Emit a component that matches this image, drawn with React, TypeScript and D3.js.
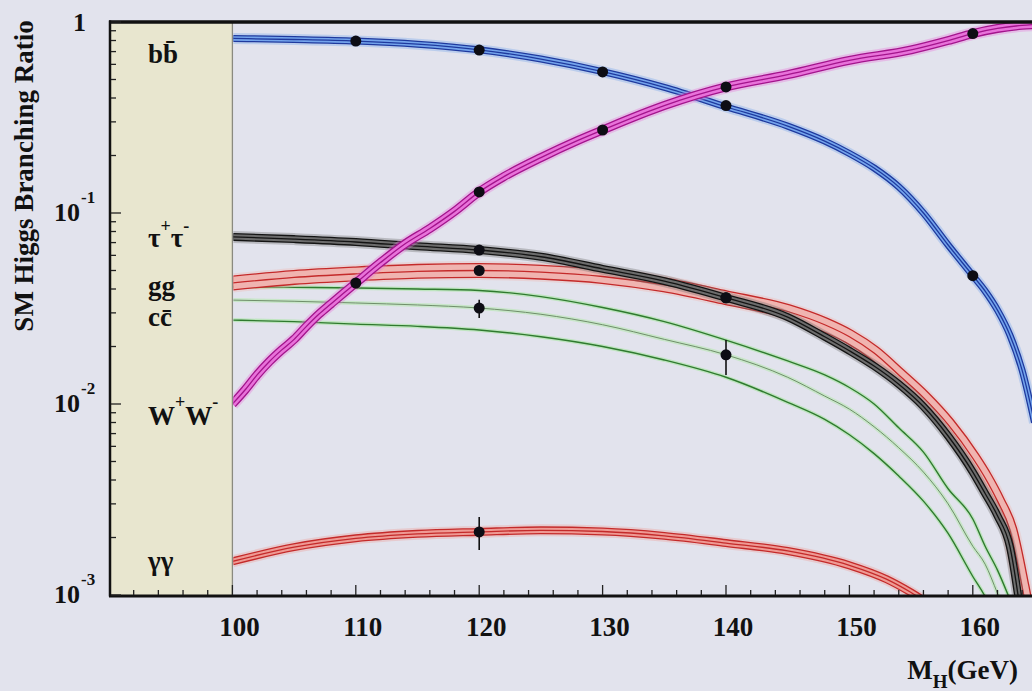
import React, { useEffect, useRef } from 'react';
import * as d3 from 'd3';

// Branching ratios vs Higgs mass (GeV)
const bbMass = [100, 105, 110, 115, 120, 125, 130, 135, 140, 145, 148, 150, 152, 154, 156, 158, 160, 161, 162, 163, 164, 165];
const bbBR = [0.82, 0.81, 0.795, 0.765, 0.715, 0.64, 0.55, 0.455, 0.36, 0.285, 0.238, 0.205, 0.172, 0.137, 0.100, 0.068, 0.047, 0.039, 0.031, 0.023, 0.015, 0.008];

const wwMass = [100, 101, 102, 103, 104, 105, 106, 107, 108, 109, 110, 112, 114, 116, 118, 120, 122, 125, 128, 130, 135, 140, 145, 150, 155, 158, 160, 162, 164, 165];
const wwBR = [0.0100, 0.0118, 0.0142, 0.0167, 0.0192, 0.0218, 0.0255, 0.0295, 0.0335, 0.038, 0.043, 0.055, 0.069, 0.083, 0.102, 0.129, 0.155, 0.195, 0.24, 0.272, 0.365, 0.457, 0.53, 0.63, 0.715, 0.80, 0.87, 0.925, 0.96, 0.97];

const ttMass = [100, 105, 110, 115, 120, 125, 130, 135, 140, 145, 148, 150, 152, 154, 156, 158, 160, 161, 162, 163, 164];
const ttBR = [0.075, 0.073, 0.0705, 0.067, 0.064, 0.059, 0.051, 0.044, 0.036, 0.0285, 0.0225, 0.019, 0.0158, 0.0127, 0.0097, 0.0068, 0.0044, 0.0034, 0.0026, 0.0018, 0.0007];

const ggMass = [100, 105, 110, 115, 120, 125, 130, 135, 140, 145, 148, 150, 152, 154, 156, 158, 160, 161, 162, 163, 164, 165];
const ggBR = [0.043, 0.046, 0.048, 0.0495, 0.050, 0.049, 0.0465, 0.042, 0.036, 0.0305, 0.026, 0.0225, 0.0185, 0.0142, 0.0108, 0.0078, 0.0052, 0.0041, 0.0031, 0.0022, 0.0011, 0.0005];

const ccMass = [100, 105, 110, 115, 120, 125, 130, 135, 140, 145, 148, 150, 152, 154, 156, 158, 160, 161, 162, 163];
const ccMid = [0.035, 0.0345, 0.0338, 0.033, 0.0318, 0.0295, 0.026, 0.0218, 0.0181, 0.0138, 0.0110, 0.0094, 0.0076, 0.0059, 0.0044, 0.0030, 0.0018, 0.00145, 0.00102, 0.0007];
const ccHi = [0.041, 0.0408, 0.0405, 0.040, 0.0393, 0.0365, 0.032, 0.027, 0.0216, 0.0168, 0.0142, 0.0122, 0.0100, 0.0075, 0.0056, 0.0036, 0.0025, 0.0018, 0.00135, 0.00095];
const ccLo = [0.0275, 0.027, 0.0262, 0.0255, 0.0244, 0.0225, 0.020, 0.0170, 0.0138, 0.0102, 0.0083, 0.0069, 0.0055, 0.0042, 0.0031, 0.0021, 0.00125, 0.00098, 0.0007, 0.0005];

const aaMass = [100, 105, 110, 115, 120, 125, 130, 135, 140, 145, 150, 153, 155, 157];
const aaBR = [0.00150, 0.00178, 0.00198, 0.00209, 0.00214, 0.00218, 0.00215, 0.00204, 0.00187, 0.00170, 0.00143, 0.00121, 0.00103, 0.00085];

// projected measurements (dots), with error bars where visible
const bbPtMass = [110, 120, 130, 140, 160];
const bbPtBR = [0.795, 0.713, 0.548, 0.365, 0.047];
const wwPtMass = [110, 120, 130, 140, 160];
const wwPtBR = [0.043, 0.129, 0.272, 0.457, 0.87];
const ttPtMass = [120, 140];
const ttPtBR = [0.064, 0.036];
const ggPtMass = [120, 140];
const ggPtBR = [0.050, 0.036];
const ccPtMass = [120, 140];
const ccPtBR = [0.0318, 0.0181];
const ccPtLo = [0.0282, 0.0142];
const ccPtHi = [0.0351, 0.0216];
const aaPtMass = [120];
const aaPtBR = [0.00214];
const aaPtLo = [0.00172];
const aaPtHi = [0.00256];

const xLabels = [100, 110, 120, 130, 140, 150, 160];
const yDecades = [1, 0.1, 0.01, 0.001];
const yExp = ['', '-1', '-2', '-3'];

const FONT = '"Liberation Serif", "Times New Roman", serif';
const BG = '#e2e3ed';
const PANEL = '#e8e6cf';

const zip = (m: number[], v: number[]) => m.map((d, i) => [d, v[i]] as [number, number]);

const App: React.FC = () => {
    const svgRef = useRef<SVGSVGElement>(null);

    useEffect(() => {
        if (!svgRef.current) return;
        const svg = d3.select(svgRef.current);
        svg.selectAll('*').remove();

        const x = d3.scaleLinear().domain([90, 165]).range([109, 1034.5]);
        const y = d3.scaleLog().domain([0.001, 1]).range([595, 22]);
        const x0 = x(100);

        // beige label panel
        svg.append('rect')
            .attr('x', 110).attr('y', y(1))
            .attr('width', x0 - 110).attr('height', y(0.001) - y(1))
            .attr('fill', PANEL);
        svg.append('line')
            .attr('x1', x0).attr('x2', x0).attr('y1', y(1)).attr('y2', y(0.001))
            .attr('stroke', '#8a8a80').attr('stroke-width', 1.3);

        svg.append('clipPath').attr('id', 'plotClip')
            .append('rect')
            .attr('x', x0 + 1).attr('y', y(1))
            .attr('width', 1032 - x0).attr('height', y(0.001) - y(1));

        const g = svg.append('g').attr('clip-path', 'url(#plotClip)');

        const line = d3.line<[number, number]>()
            .x(d => x(d[0]))
            .y(d => y(d[1]))
            .curve(d3.curveMonotoneX);

        // a band = three parallel lines with a light fill between them
        const band = (pts: [number, number][], dark: string, light: string, w: number) => {
            const d = line(pts);
            g.append('path').attr('d', d).attr('fill', 'none')
                .attr('stroke', light).attr('stroke-width', w + 4).attr('stroke-opacity', 0.35);
            g.append('path').attr('d', d).attr('fill', 'none')
                .attr('stroke', dark).attr('stroke-width', w);
            g.append('path').attr('d', d).attr('fill', 'none')
                .attr('stroke', light).attr('stroke-width', w - 2.6);
            g.append('path').attr('d', d).attr('fill', 'none')
                .attr('stroke', dark).attr('stroke-width', 1.3);
        };

        const thin = (pts: [number, number][], dark: string, glow: string, sw: number) => {
            const d = line(pts);
            g.append('path').attr('d', d).attr('fill', 'none')
                .attr('stroke', glow).attr('stroke-width', 4).attr('stroke-opacity', 0.6);
            g.append('path').attr('d', d).attr('fill', 'none')
                .attr('stroke', dark).attr('stroke-width', sw);
        };

        // c cbar: three separate green lines
        thin(zip(ccMass, ccHi), '#2f7a2f', '#a6e6a0', 1.4);
        thin(zip(ccMass, ccMid), '#6f8f6a', '#b8e8b0', 1.0);
        thin(zip(ccMass, ccLo), '#2f7a2f', '#a6e6a0', 1.4);

        band(zip(ggMass, ggBR), '#c42a2a', '#f0b4b0', 15);
        band(zip(ttMass, ttBR), '#141414', '#6c6c6c', 8);
        band(zip(aaMass, aaBR), '#c42a2a', '#ef9a94', 8);
        band(zip(bbMass, bbBR), '#1f3a9e', '#74a4ec', 7);
        band(zip(wwMass, wwBR), '#a3148c', '#e872da', 9);

        // measurement points
        const pts = svg.append('g').attr('clip-path', 'url(#plotClip)');
        const errBars = (m: number[], lo: number[], hi: number[]) => {
            m.forEach((mm, i) => {
                pts.append('line')
                    .attr('x1', x(mm)).attr('x2', x(mm))
                    .attr('y1', y(hi[i])).attr('y2', y(lo[i]))
                    .attr('stroke', '#111').attr('stroke-width', 1.6);
            });
        };
        errBars(ccPtMass, ccPtLo, ccPtHi);
        errBars(aaPtMass, aaPtLo, aaPtHi);
        const dots = (m: number[], v: number[]) => {
            m.forEach((mm, i) => {
                pts.append('circle')
                    .attr('cx', x(mm)).attr('cy', y(v[i]))
                    .attr('r', 5.5).attr('fill', '#0d0d14');
            });
        };
        dots(bbPtMass, bbPtBR);
        dots(wwPtMass, wwPtBR);
        dots(ttPtMass, ttPtBR);
        dots(ggPtMass, ggPtBR);
        dots(ccPtMass, ccPtBR);
        dots(aaPtMass, aaPtBR);

        // frame
        svg.append('line').attr('x1', 109).attr('x2', 1032).attr('y1', y(1)).attr('y2', y(1))
            .attr('stroke', '#111').attr('stroke-width', 3.5);
        svg.append('line').attr('x1', 110).attr('x2', 110).attr('y1', y(1) - 1.5).attr('y2', y(0.001) + 1.5)
            .attr('stroke', '#111').attr('stroke-width', 2.5);
        svg.append('line').attr('x1', 109).attr('x2', 1032).attr('y1', y(0.001) + 1).attr('y2', y(0.001) + 1)
            .attr('stroke', '#111').attr('stroke-width', 3);

        // y ticks (log)
        y.ticks().forEach(t => {
            const major = yDecades.some(dv => Math.abs(dv - t) / dv < 1e-6);
            svg.append('line')
                .attr('x1', 111).attr('x2', 111 + (major ? 10 : 5))
                .attr('y1', y(t)).attr('y2', y(t))
                .attr('stroke', '#222').attr('stroke-width', 1.3);
        });

        // x ticks
        d3.range(92, 165, 2).forEach(t => {
            const major = t % 10 === 0;
            svg.append('line')
                .attr('x1', x(t)).attr('x2', x(t))
                .attr('y1', y(0.001)).attr('y2', y(0.001) - (major ? 10 : 5))
                .attr('stroke', '#222').attr('stroke-width', 1.3);
        });

        const txt = (sel: any) => sel
            .attr('font-family', FONT).attr('font-weight', 'bold').attr('fill', '#111');

        // x tick labels
        xLabels.forEach(t => {
            txt(svg.append('text'))
                .attr('x', x(t) + 7).attr('y', 636)
                .attr('text-anchor', 'middle').attr('font-size', 27)
                .text(String(t));
        });

        // y tick labels
        yDecades.forEach((dv, i) => {
            const yy = y(dv);
            if (!yExp[i]) {
                txt(svg.append('text'))
                    .attr('x', 86).attr('y', yy + 9)
                    .attr('text-anchor', 'end').attr('font-size', 26)
                    .text('1');
            } else {
                txt(svg.append('text'))
                    .attr('x', 80).attr('y', yy + 8)
                    .attr('text-anchor', 'end').attr('font-size', 26)
                    .text('10');
                txt(svg.append('text'))
                    .attr('x', 81).attr('y', yy - 10)
                    .attr('font-size', 17)
                    .text(yExp[i]);
            }
        });

        // axis titles
        txt(svg.append('text'))
            .attr('transform', 'translate(33,176) rotate(-90)')
            .attr('text-anchor', 'middle').attr('font-size', 27)
            .text('SM Higgs Branching Ratio');

        const xt = txt(svg.append('text'))
            .attr('x', 1018).attr('y', 679)
            .attr('text-anchor', 'end').attr('font-size', 27);
        xt.append('tspan').text('M');
        xt.append('tspan').attr('font-size', 19).attr('dy', 9).text('H');
        xt.append('tspan').attr('dy', -9).text('(GeV)');

        // channel labels in the panel
        const lab = (yy: number) => txt(svg.append('text'))
            .attr('x', 148).attr('y', yy).attr('font-size', 27);

        lab(63).text('bb\u0304');
        const tt = lab(247);
        tt.append('tspan').text('τ');
        tt.append('tspan').attr('dy', -15).attr('font-size', 18).text('+');
        tt.append('tspan').attr('dy', 15).text('τ');
        tt.append('tspan').attr('dy', -15).attr('font-size', 18).text('-');
        lab(295).text('gg');
        lab(326).text('cc\u0304');
        const ww = lab(425);
        ww.append('tspan').text('W');
        ww.append('tspan').attr('dy', -17).attr('font-size', 18).text('+');
        ww.append('tspan').attr('dy', 17).text('W');
        ww.append('tspan').attr('dy', -17).attr('font-size', 18).text('-');
        lab(570).text('γγ');
    }, []);

    return (
        <svg
            ref={svgRef}
            width={1032}
            height={691}
            style={{ position: 'absolute', left: 0, top: 0, background: BG }}
        />
    );
};

export default App;
